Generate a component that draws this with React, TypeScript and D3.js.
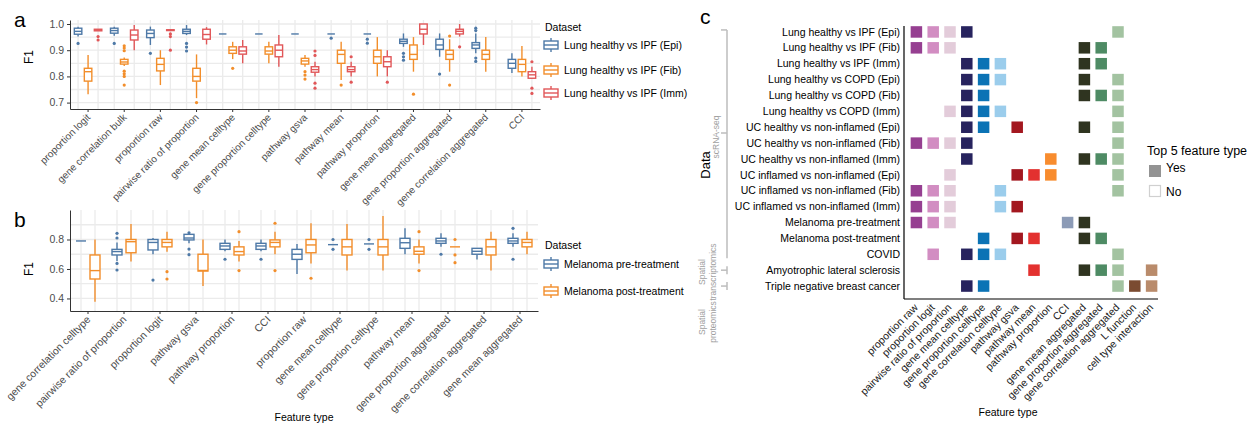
import React, { useEffect, useRef } from "react";
import * as d3 from "d3";

const FONT = "'Liberation Sans', Arial, Helvetica, sans-serif";

// ---- panel a ----
const aFeatures = [
  "proportion logit", "gene correlation bulk", "proportion raw", "pairwise ratio of proportion",
  "gene mean celltype", "gene proportion celltype", "pathway gsva", "pathway mean",
  "pathway proportion", "gene mean aggregated", "gene proportion aggregated",
  "gene correlation aggregated", "CCI",
];
const aDatasets = ["Lung healthy vs IPF (Epi)", "Lung healthy vs IPF (Fib)", "Lung healthy vs IPF (Imm)"];
const aColors = ["#4E79A7", "#F28E2B", "#E15759"];
// [lower whisker, q1, median, q3, upper whisker]
const aEpi = [
  [0.952, 0.961, 0.972, 0.984, 0.99], [0.955, 0.965, 0.975, 0.984, 0.99], [0.92, 0.948, 0.964, 0.977, 0.99],
  [0.958, 0.964, 0.972, 0.98, 0.996], [0.962, 0.962, 0.962, 0.962, 0.962], [0.962, 0.962, 0.962, 0.962, 0.962],
  [0.962, 0.962, 0.962, 0.962, 0.962], [0.962, 0.962, 0.962, 0.962, 0.962], [0.962, 0.962, 0.962, 0.962, 0.962],
  [0.913, 0.926, 0.934, 0.942, 0.964], [0.875, 0.903, 0.92, 0.942, 0.964], [0.888, 0.907, 0.92, 0.929, 0.964],
  [0.813, 0.831, 0.85, 0.865, 0.888],
];
const aEpiOut = [[0.926], [0.926], [0.888], [0.926, 0.912, 0.897], [], [], [], [0.946], [0.942, 0.927],
  [0.888, 0.875, 0.862], [0.809], [0.984, 0.975, 0.87, 0.857], []];
const aFib = [
  [0.732, 0.782, 0.818, 0.831, 0.882], [0.84, 0.847, 0.855, 0.865, 0.872], [0.767, 0.821, 0.846, 0.869, 0.9],
  [0.717, 0.782, 0.8, 0.831, 0.884], [0.866, 0.888, 0.9, 0.913, 0.932], [0.85, 0.885, 0.897, 0.913, 0.932],
  [0.837, 0.847, 0.859, 0.869, 0.882], [0.786, 0.85, 0.884, 0.9, 0.932], [0.8, 0.85, 0.875, 0.9, 0.95],
  [0.818, 0.865, 0.884, 0.92, 0.95], [0.818, 0.865, 0.884, 0.9, 0.942], [0.818, 0.865, 0.884, 0.9, 0.95],
  [0.8, 0.818, 0.846, 0.865, 0.916],
];
const aFibOut = [[], [0.917, 0.908, 0.898, 0.82, 0.81, 0.8, 0.767], [], [0.7], [0.831], [],
  [0.818, 0.805, 0.79], [0.767], [], [0.732], [0.954, 0.767], [], []];
const aImm = [
  [0.974, 0.974, 0.977, 0.98, 0.98], [0.9, 0.939, 0.958, 0.977, 0.996], [0.975, 0.975, 0.977, 0.978, 0.978],
  [0.922, 0.942, 0.96, 0.98, 0.988], [0.85, 0.885, 0.897, 0.913, 0.939], [0.837, 0.875, 0.9, 0.92, 0.958],
  [0.8, 0.816, 0.826, 0.837, 0.856], [0.8, 0.818, 0.826, 0.837, 0.856], [0.8, 0.837, 0.856, 0.875, 0.9],
  [0.92, 0.962, 0.98, 1.0, 1.0], [0.952, 0.962, 0.972, 0.98, 1.0], null,
  [0.79, 0.793, 0.806, 0.818, 0.837],
];
const aImmOut = [[0.952, 0.939], [], [0.962, 0.952, 0.9], [], [], [], [0.897, 0.88, 0.774, 0.755],
  [0.875, 0.778], [0.778], [], [0.913], [], [0.856, 0.755, 0.735]];

// ---- panel b ----
const bFeatures = [
  "gene correlation celltype", "pairwise ratio of proportion", "proportion logit", "pathway gsva",
  "pathway proportion", "CCI", "proportion raw", "gene mean celltype", "gene proportion celltype",
  "pathway mean", "gene proportion aggregated", "gene correlation aggregated", "gene mean aggregated",
];
const bDatasets = ["Melanoma pre-treatment", "Melanoma post-treatment"];
const bColors = ["#4E79A7", "#F28E2B"];
const bPre = [
  [0.79, 0.79, 0.79, 0.79, 0.79], [0.654, 0.695, 0.718, 0.733, 0.78], [0.7, 0.729, 0.78, 0.8, 0.81],
  [0.775, 0.797, 0.81, 0.835, 0.835], [0.72, 0.733, 0.756, 0.774, 0.8], [0.72, 0.733, 0.756, 0.774, 0.8],
  [0.566, 0.665, 0.7, 0.733, 0.77], [0.765, 0.765, 0.765, 0.765, 0.765], [0.77, 0.77, 0.77, 0.77, 0.77],
  [0.7, 0.74, 0.778, 0.808, 0.876], [0.75, 0.774, 0.79, 0.808, 0.842], [0.665, 0.7, 0.72, 0.74, 0.74],
  [0.75, 0.774, 0.79, 0.808, 0.842],
];
const bPreOut = [[], [0.842, 0.81, 0.638, 0.593], [0.525], [0.845, 0.735, 0.697], [0.666], [0.666], [],
  [0.8, 0.733], [0.8, 0.733], [], [0.7], [], [0.876, 0.666]];
const bPost = [
  [0.378, 0.532, 0.589, 0.695, 0.8], [0.65, 0.71, 0.785, 0.8, 0.905], [0.717, 0.75, 0.78, 0.8, 0.853],
  [0.485, 0.586, 0.59, 0.7, 0.8], [0.65, 0.695, 0.718, 0.75, 0.79], [0.7, 0.75, 0.78, 0.797, 0.853],
  [0.638, 0.71, 0.763, 0.8, 0.91], [0.589, 0.695, 0.75, 0.8, 0.905], [0.589, 0.695, 0.75, 0.8, 0.96],
  [0.638, 0.7, 0.72, 0.75, 0.8], [0.75, 0.75, 0.75, 0.75, 0.75], [0.589, 0.695, 0.75, 0.8, 0.853],
  [0.7, 0.75, 0.78, 0.8, 0.853],
];
const bPostOut = [[], [], [0.582, 0.532], [], [0.853, 0.589], [0.91, 0.589], [0.537], [], [], [0.853, 0.589],
  [0.8, 0.695, 0.643], [], []];

// ---- panel c ----
const cRows = [
  "Lung healthy vs IPF (Epi)", "Lung healthy vs IPF (Fib)", "Lung healthy vs IPF (Imm)",
  "Lung healthy vs COPD (Epi)", "Lung healthy vs COPD (Fib)", "Lung healthy vs COPD (Imm)",
  "UC healthy vs non-inflamed (Epi)", "UC healthy vs non-inflamed (Fib)", "UC healthy vs non-inflamed (Imm)",
  "UC inflamed vs non-inflamed (Epi)", "UC inflamed vs non-inflamed (Fib)", "UC inflamed vs non-inflamed (Imm)",
  "Melanoma pre-treatment", "Melanoma post-treatment", "COVID", "Amyotrophic lateral sclerosis",
  "Triple negative breast cancer",
];
const cCols = [
  "proportion raw", "proportion logit", "pairwise ratio of proportion", "gene mean celltype",
  "gene proportion celltype", "gene correlation celltype", "pathway gsva", "pathway mean",
  "pathway proportion", "CCI", "gene mean aggregated", "gene proportion aggregated",
  "gene correlation aggregated", "L function", "cell type interaction",
];
const cColors = [
  "#963F91", "#D28DC2", "#E3CCDA", "#27235E", "#0B73B5", "#9BCDEC", "#A3171F", "#E3312F",
  "#F88C2E", "#8C9BB6", "#2F3420", "#4E8B64", "#A3C3A1", "#7B4B31", "#B98B6B",
];
// column indices of the top 5 feature types per dataset
const cTop5 = [
  [0, 1, 2, 3, 12], [0, 1, 2, 10, 11], [3, 4, 5, 10, 11], [3, 4, 5, 10, 12], [3, 4, 10, 11, 12],
  [2, 3, 4, 5, 12], [3, 4, 6, 10, 12], [0, 1, 2, 3, 12], [3, 8, 10, 11, 12], [2, 6, 7, 8, 12],
  [0, 1, 2, 5, 12], [0, 1, 2, 5, 6], [0, 1, 2, 9, 10], [4, 6, 7, 10, 11], [1, 3, 4, 5, 12],
  [7, 10, 11, 12, 14], [3, 4, 12, 13, 14],
];

type G = d3.Selection<SVGGElement, unknown, null, undefined>;

interface PanelCfg {
  features: string[];
  stats: (number[] | null)[][];
  outs: number[][][];
  colors: string[];
  left: number; right: number; top: number; bottom: number;
  domain: [number, number];
  ticks: number[]; minor: number[];
  offsets: number[]; boxW: number; labelSize: number;
}

function drawBoxPanel(g: G, c: PanelCfg) {
  const x = d3.scaleBand().domain(c.features).range([c.left, c.right]);
  const y = d3.scaleLinear().domain(c.domain).range([c.bottom, c.top]);
  const cx = (f: string) => (x(f) as number) + x.bandwidth() / 2;

  // grid
  const grid = g.append("g");
  [...c.ticks, ...c.minor].forEach((v) => {
    grid.append("line").attr("x1", c.left).attr("x2", c.right).attr("y1", y(v)).attr("y2", y(v))
      .attr("stroke", "#EBEBEB").attr("stroke-width", 1.3);
  });
  c.features.forEach((f) => {
    [c.offsets[0], c.offsets[c.offsets.length - 1]].forEach((o) => {
      grid.append("line").attr("x1", cx(f) + o).attr("x2", cx(f) + o).attr("y1", c.top).attr("y2", c.bottom)
        .attr("stroke", "#EBEBEB").attr("stroke-width", 1.3);
    });
  });

  // boxes
  c.stats.forEach((series, si) => {
    const col = c.colors[si];
    series.forEach((s, i) => {
      if (!s) return;
      const [lo, q1, med, q3, hi] = s;
      const xc = cx(c.features[i]) + c.offsets[si];
      const b = g.append("g").attr("stroke", col).attr("stroke-width", 1.4).attr("fill", "none");
      b.append("line").attr("x1", xc).attr("x2", xc).attr("y1", y(hi)).attr("y2", y(q3));
      b.append("line").attr("x1", xc).attr("x2", xc).attr("y1", y(q1)).attr("y2", y(lo));
      if (q3 - q1 > 0.001) {
        b.append("rect").attr("x", xc - c.boxW / 2).attr("y", y(q3)).attr("width", c.boxW)
          .attr("height", y(q1) - y(q3)).attr("fill", "white");
      }
      b.append("line").attr("x1", xc - c.boxW / 2).attr("x2", xc + c.boxW / 2).attr("y1", y(med)).attr("y2", y(med));
      c.outs[si][i].forEach((v) => {
        g.append("circle").attr("cx", xc).attr("cy", y(v)).attr("r", 1.6).attr("fill", col);
      });
    });
  });

  // axes
  const yAxis = d3.axisLeft(y).tickValues(c.ticks).tickFormat(d3.format(".1f")).tickSize(3).tickSizeOuter(0);
  const ya = g.append("g").attr("transform", `translate(${c.left},0)`).call(yAxis);
  ya.selectAll("text").attr("fill", "#4D4D4D").style("font-size", "10.5px").style("font-family", FONT);
  ya.selectAll("path,line").attr("stroke", "#333");

  const xAxis = d3.axisBottom(x).tickSize(3).tickSizeOuter(0).tickFormat(() => "");
  const xa = g.append("g").attr("transform", `translate(0,${c.bottom})`).call(xAxis);
  xa.selectAll("path,line").attr("stroke", "#333");

  c.features.forEach((f) => {
    g.append("text").attr("transform", `translate(${cx(f) - 2},${c.bottom + 4}) rotate(-45)`)
      .attr("text-anchor", "end").attr("dy", "0.7em").attr("fill", "#4D4D4D")
      .style("font-size", `${c.labelSize}px`).style("font-family", FONT).text(f);
  });
}

function drawLegend(g: G, x: number, titleY: number, keysY: number[], labels: string[], colors: string[]) {
  g.append("text").attr("x", x + 1).attr("y", titleY).attr("dy", "0.35em").style("font-size", "10.5px")
    .style("font-family", FONT).text("Dataset");
  labels.forEach((l, i) => {
    const ky = keysY[i];
    const k = g.append("g").attr("stroke", colors[i]).attr("stroke-width", 1.4).attr("fill", "none");
    k.append("rect").attr("x", x).attr("y", ky - 4).attr("width", 14).attr("height", 8).attr("fill", "white");
    k.append("line").attr("x1", x).attr("x2", x + 14).attr("y1", ky).attr("y2", ky);
    k.append("line").attr("x1", x + 7).attr("x2", x + 7).attr("y1", ky - 7).attr("y2", ky - 4);
    k.append("line").attr("x1", x + 7).attr("x2", x + 7).attr("y1", ky + 4).attr("y2", ky + 7);
    g.append("text").attr("x", x + 20).attr("y", ky).attr("dy", "0.35em").style("font-size", "10.5px")
      .style("font-family", FONT).text(l);
  });
}

const App: React.FC = () => {
  const svgRef = useRef<SVGSVGElement | null>(null);

  useEffect(() => {
    if (!svgRef.current) return;
    const svg = d3.select(svgRef.current);
    svg.selectAll("*").remove();
    const root = svg.append("g") as unknown as G;

    // panel a
    drawBoxPanel(root, {
      features: aFeatures, stats: [aEpi, aFib, aImm], outs: [aEpiOut, aFibOut, aImmOut], colors: aColors,
      left: 70, right: 540, top: 20, bottom: 109, domain: [0.6756, 1.0153],
      ticks: [0.7, 0.8, 0.9, 1.0], minor: [0.75, 0.85, 0.95], offsets: [-10, 0, 10], boxW: 7.5, labelSize: 10,
    });
    root.append("text").attr("transform", "translate(33,57) rotate(-90)").attr("text-anchor", "middle")
      .style("font-size", "12px").style("font-family", FONT).text("F1");
    drawLegend(root, 544, 27, [45, 70, 93], aDatasets, aColors);
    root.append("text").attr("x", 14).attr("y", 27).style("font-size", "21px").style("font-family", FONT).text("a");

    // panel b
    drawBoxPanel(root, {
      features: bFeatures, stats: [bPre, bPost], outs: [bPreOut, bPostOut], colors: bColors,
      left: 70, right: 538, top: 210, bottom: 311, domain: [0.315, 1.0],
      ticks: [0.4, 0.6, 0.8], minor: [0.5, 0.7, 0.9], offsets: [-7, 7], boxW: 10, labelSize: 10.5,
    });
    root.append("text").attr("transform", "translate(33,269) rotate(-90)").attr("text-anchor", "middle")
      .style("font-size", "12px").style("font-family", FONT).text("F1");
    root.append("text").attr("x", 304).attr("y", 421).attr("text-anchor", "middle")
      .style("font-size", "10.5px").style("font-family", FONT).text("Feature type");
    drawLegend(root, 544, 245, [264, 291], bDatasets, bColors);
    root.append("text").attr("x", 14).attr("y", 227).style("font-size", "21px").style("font-family", FONT).text("b");

    // panel c
    const xc = d3.scaleBand().domain(cCols).range([908, 1160]);
    const yc = d3.scaleBand().domain(cRows).range([24, 294]);
    const cell = 11.5;
    const gc = root.append("g");
    cRows.forEach((r, ri) => {
      cTop5[ri].forEach((ci) => {
        const col = cCols[ci];
        gc.append("rect")
          .attr("x", (xc(col) as number) + xc.bandwidth() / 2 - cell / 2)
          .attr("y", (yc(r) as number) + yc.bandwidth() / 2 - cell / 2)
          .attr("width", cell).attr("height", cell).attr("fill", cColors[ci]);
      });
      gc.append("text").attr("x", 900).attr("y", (yc(r) as number) + yc.bandwidth() / 2).attr("dy", "0.35em")
        .attr("text-anchor", "end").style("font-size", "10.5px").style("font-family", FONT).text(r);
    });
    gc.append("line").attr("x1", 904).attr("x2", 904).attr("y1", 26).attr("y2", 299).attr("stroke", "#000").attr("stroke-width", 1.2);
    gc.append("line").attr("x1", 904).attr("x2", 1158).attr("y1", 299).attr("y2", 299).attr("stroke", "#000").attr("stroke-width", 1.2);
    cCols.forEach((col) => {
      const x = (xc(col) as number) + xc.bandwidth() / 2;
      gc.append("text").attr("transform", `translate(${x - 3},303) rotate(-45)`).attr("text-anchor", "end")
        .attr("dy", "0.7em").attr("fill", "#222").style("font-size", "10.5px").style("font-family", FONT).text(col);
    });
    gc.append("text").attr("x", 1008).attr("y", 416).attr("text-anchor", "middle")
      .style("font-size", "10.5px").style("font-family", FONT).text("Feature type");

    // dataset groups on the left
    const gy = (r: string) => (yc(r) as number) + yc.bandwidth() / 2;
    const br = gc.append("g").attr("stroke", "#BDBDBD").attr("stroke-width", 1.5);
    br.append("line").attr("x1", 727).attr("x2", 727).attr("y1", gy(cRows[0]) - 2).attr("y2", gy(cRows[14]) + 4);
    br.append("line").attr("x1", 721).attr("x2", 727).attr("y1", gy(cRows[0]) - 2).attr("y2", gy(cRows[0]) - 2);
    br.append("line").attr("x1", 721).attr("x2", 727).attr("y1", 133).attr("y2", 133);
    [15, 16].forEach((i) => {
      br.append("line").attr("x1", 727).attr("x2", 727).attr("y1", gy(cRows[i]) - 4).attr("y2", gy(cRows[i]) + 4);
      br.append("line").attr("x1", 721).attr("x2", 727).attr("y1", gy(cRows[i])).attr("y2", gy(cRows[i]));
    });
    gc.append("text").attr("transform", "translate(719,137) rotate(-90)").attr("text-anchor", "middle")
      .attr("fill", "#A0A0A0").style("font-size", "8.5px").style("font-family", FONT).text("scRNA-seq");
    gc.append("text").attr("transform", "translate(705,272) rotate(-90)").attr("text-anchor", "middle")
      .attr("fill", "#A0A0A0").style("font-size", "8.5px").style("font-family", FONT)
      .selectAll("tspan").data(["Spatial", "transcriptomics"]).join("tspan")
      .attr("x", 0).attr("dy", (d, i) => (i === 0 ? 0 : "1.25em")).text((d) => d);
    gc.append("text").attr("transform", "translate(705,322) rotate(-90)").attr("text-anchor", "middle")
      .attr("fill", "#A0A0A0").style("font-size", "8.5px").style("font-family", FONT)
      .selectAll("tspan").data(["Spatial", "proteomics"]).join("tspan")
      .attr("x", 0).attr("dy", (d, i) => (i === 0 ? 0 : "1.25em")).text((d) => d);
    gc.append("text").attr("transform", "translate(710,165) rotate(-90)").attr("text-anchor", "middle")
      .style("font-size", "13px").style("font-family", FONT).text("Data");
    root.append("text").attr("x", 700).attr("y", 24).style("font-size", "21px").style("font-family", FONT).text("c");

    // legend c
    gc.append("text").attr("x", 1147).attr("y", 151).attr("dy", "0.35em").style("font-size", "12.5px")
      .style("font-family", FONT).text("Top 5 feature type");
    gc.append("rect").attr("x", 1149).attr("y", 165).attr("width", 12).attr("height", 12).attr("fill", "#939393");
    gc.append("text").attr("x", 1166).attr("y", 168).attr("dy", "0.35em").style("font-size", "12px")
      .style("font-family", FONT).text("Yes");
    gc.append("rect").attr("x", 1149.5).attr("y", 185.5).attr("width", 11).attr("height", 11).attr("fill", "white")
      .attr("stroke", "#D0D0D0").attr("stroke-width", 1.2);
    gc.append("text").attr("x", 1166).attr("y", 192).attr("dy", "0.35em").style("font-size", "12px")
      .style("font-family", FONT).text("No");
  }, []);

  return (
    <svg ref={svgRef} width={1250} height={425} style={{ position: "absolute", left: 0, top: 0, background: "white" }} />
  );
};

export default App;
